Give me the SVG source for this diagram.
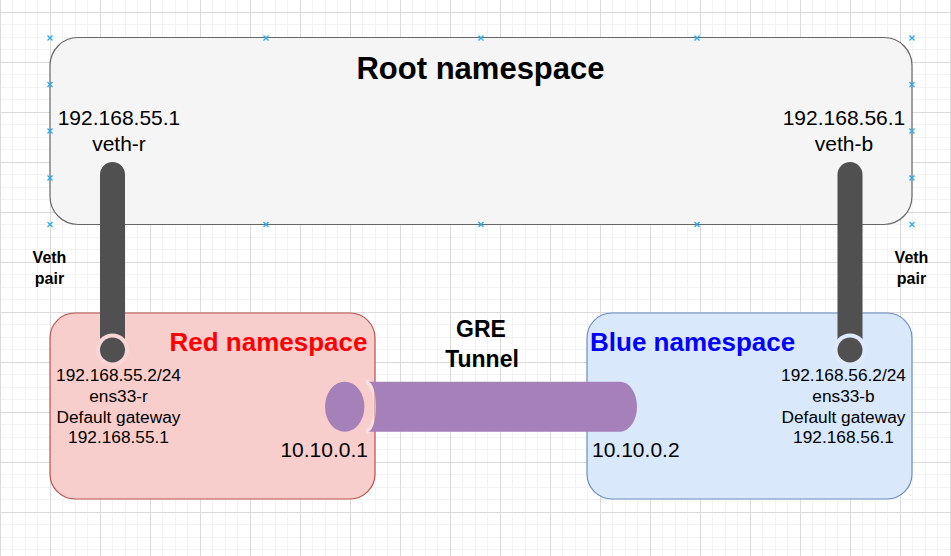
<svg xmlns="http://www.w3.org/2000/svg" width="951" height="556" viewBox="0 0 951 556">
<defs>
  <pattern id="grid" x="0" y="12" width="50" height="50" patternUnits="userSpaceOnUse">
    <rect x="12" y="0" width="1" height="50" fill="#f2f2f2"/>
    <rect x="25" y="0" width="1" height="50" fill="#f2f2f2"/>
    <rect x="37" y="0" width="1" height="50" fill="#f2f2f2"/>
    <rect x="0" y="12" width="50" height="1" fill="#f2f2f2"/>
    <rect x="0" y="25" width="50" height="1" fill="#f2f2f2"/>
    <rect x="0" y="37" width="50" height="1" fill="#f2f2f2"/>
    <rect x="0" y="0" width="1" height="50" fill="#dadada"/>
    <rect x="0" y="0" width="50" height="1" fill="#dadada"/>
  </pattern>
  <g id="mk">
    <path d="M-2.5,-2.5 L2.5,2.5 M-2.5,2.5 L2.5,-2.5" stroke="#29a9f0" stroke-width="1.3" fill="none"/>
  </g>
</defs>
<style>
  text { font-family: "Liberation Sans", Arial, sans-serif; fill: #000; }
  .t21 { font-size: 21px; }
  .t17 { font-size: 17.3px; }
  .bold { font-weight: bold; }
  .mid { text-anchor: middle; }
  .end { text-anchor: end; }
  .pipe { fill: #505050; }
  .tun { fill: #a680b8; }
</style>
<rect x="0" y="0" width="951" height="556" fill="#ffffff"/>
<rect x="0" y="0" width="951" height="556" fill="url(#grid)"/>

<g id="root-ns">
  <rect x="50" y="37.5" width="862" height="187" rx="28" ry="28" fill="#f5f5f5" stroke="#666666" stroke-width="1.2"/>
  <text x="480.5" y="78.5" class="bold mid" style="font-size:31px">Root namespace</text>
  <text x="119" y="125" class="t21 mid">192.168.55.1</text>
  <text x="119" y="150.5" class="t21 mid">veth-r</text>
  <text x="844" y="125" class="t21 mid">192.168.56.1</text>
  <text x="844" y="150.5" class="t21 mid">veth-b</text>
</g>

<g id="red-ns">
  <rect x="50" y="313" width="325" height="186" rx="25" ry="25" fill="#f8cecc" stroke="#b85450" stroke-width="1.2"/>
  <text x="367.5" y="351" class="bold end" style="font-size:26px;fill:#ff0000">Red namespace</text>
  <text x="118.5" y="381" class="t17 mid">192.168.55.2/24</text>
  <text x="118.5" y="402" class="t17 mid">ens33-r</text>
  <text x="118.5" y="423" class="t17 mid">Default gateway</text>
  <text x="118.5" y="443" class="t17 mid">192.168.55.1</text>
  <text x="368" y="456.7" class="t21 end">10.10.0.1</text>
</g>

<g id="blue-ns">
  <rect x="587" y="313" width="325" height="186" rx="25" ry="25" fill="#dae8fc" stroke="#6c8ebf" stroke-width="1.2"/>
  <text x="590" y="351" class="bold" style="font-size:26px;fill:#0000ff">Blue namespace</text>
  <text x="843.5" y="381" class="t17 mid">192.168.56.2/24</text>
  <text x="843.5" y="402" class="t17 mid">ens33-b</text>
  <text x="843.5" y="423" class="t17 mid">Default gateway</text>
  <text x="843.5" y="443" class="t17 mid">192.168.56.1</text>
  <text x="592" y="456.7" class="t21">10.10.0.2</text>
</g>

<g id="connectors">
  <g id="veth-red">
    <path class="pipe" d="M100,174.5 A12.5,12.5 0 0 1 125,174.5 L125,345 L100,345 Z"/>
    <circle cx="112.5" cy="350" r="16.5" fill="#f9d6d5"/>
    <circle cx="112.5" cy="350" r="12.5" class="pipe"/>
  </g>
  <g id="veth-blue">
    <path class="pipe" d="M837.5,174.5 A12.5,12.5 0 0 1 862.5,174.5 L862.5,345 L837.5,345 Z"/>
    <circle cx="850" cy="350" r="16.5" fill="#dfebfc"/>
    <circle cx="850" cy="350" r="12.5" class="pipe"/>
  </g>
  <g id="gre-tunnel">
    <ellipse cx="344.7" cy="406.7" rx="19.7" ry="25" class="tun"/>
    <path d="M366,382 A10,24.7 0 0 1 366,431.4" fill="none" stroke="#ffffff" stroke-opacity="0.35" stroke-width="5"/>
    <path class="tun" d="M368,381.7 H620 A17,25 0 0 1 620,431.7 H368 A8,25 0 0 0 368,381.7 Z"/>
  </g>
</g>

<g id="labels">
  <text x="49.5" y="263.3" class="bold mid" style="font-size:16px">Veth</text>
  <text x="49.5" y="283.5" class="bold mid" style="font-size:16px">pair</text>
  <text x="911.5" y="263.3" class="bold mid" style="font-size:16px">Veth</text>
  <text x="911.5" y="283.5" class="bold mid" style="font-size:16px">pair</text>
  <text x="481" y="337.3" class="bold mid" style="font-size:23px">GRE</text>
  <text x="482" y="366.7" class="bold mid" style="font-size:23px">Tunnel</text>
</g>

<g id="selection-handles">
  <use href="#mk" x="50" y="38"/>
  <use href="#mk" x="266" y="38"/>
  <use href="#mk" x="481" y="38"/>
  <use href="#mk" x="697" y="38"/>
  <use href="#mk" x="912" y="38"/>
  <use href="#mk" x="50" y="224.5"/>
  <use href="#mk" x="266" y="224.5"/>
  <use href="#mk" x="481" y="224.5"/>
  <use href="#mk" x="697" y="224.5"/>
  <use href="#mk" x="912" y="224.5"/>
  <use href="#mk" x="50" y="84.5"/>
  <use href="#mk" x="50" y="131"/>
  <use href="#mk" x="50" y="178"/>
  <use href="#mk" x="912" y="84.5"/>
  <use href="#mk" x="912" y="131"/>
  <use href="#mk" x="912" y="178"/>
</g>
</svg>
